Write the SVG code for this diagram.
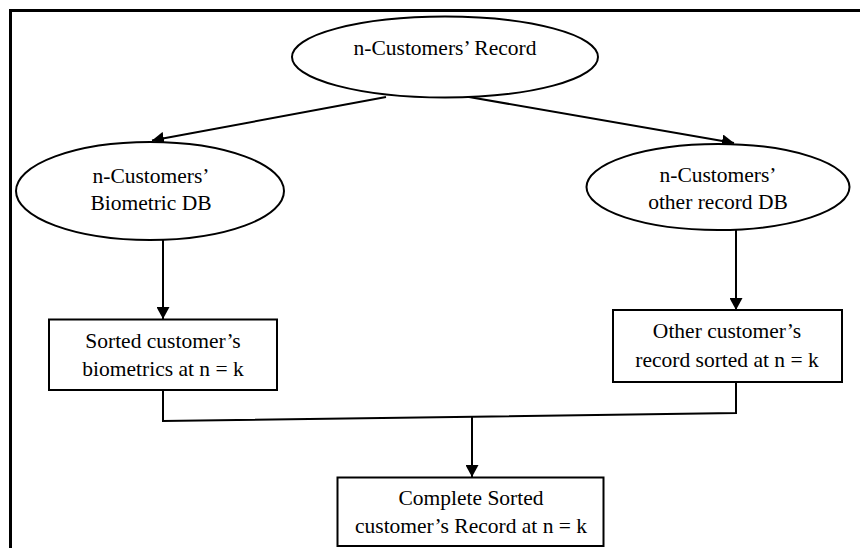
<svg xmlns="http://www.w3.org/2000/svg" width="860" height="548" viewBox="0 0 860 548">
  <style>
    .shape { fill: #ffffff; stroke: #000000; stroke-width: 2; }
    .lbl { font-family: "Liberation Serif", "Times New Roman", serif; font-size: 21.5px; fill: #000000; text-anchor: middle; }
    .conn { fill: none; stroke: #000000; stroke-width: 2; }
    .frame { fill: none; stroke: #000000; stroke-width: 3; }
  </style>
  <defs>
    <marker id="arrow" markerWidth="13" markerHeight="13" refX="12" refY="6.5" orient="auto" markerUnits="userSpaceOnUse">
      <path d="M0,0 L12,6.5 L0,13 Z" fill="#000000"/>
    </marker>
  </defs>
  <rect x="0" y="0" width="860" height="548" fill="#ffffff"/>
  <g id="frame">
    <line class="frame" x1="10.5" y1="9" x2="10.5" y2="548"/>
    <line class="frame" x1="9" y1="10.5" x2="860" y2="10.5"/>
  </g>
  <g id="connectors">
    <line class="conn" x1="386" y1="97" x2="152" y2="140.5" marker-end="url(#arrow)"/>
    <line class="conn" x1="469" y1="97" x2="734" y2="143" marker-end="url(#arrow)"/>
    <line class="conn" x1="163" y1="240" x2="163" y2="319" marker-end="url(#arrow)"/>
    <line class="conn" x1="736" y1="230" x2="736" y2="310" marker-end="url(#arrow)"/>
    <polyline class="conn" points="163,390 163,421 736,413 736,382"/>
    <line class="conn" x1="472" y1="417" x2="472" y2="477" marker-end="url(#arrow)"/>
  </g>
  <g id="node-record">
    <ellipse class="shape" cx="445" cy="57" rx="153" ry="40.5"/>
    <text class="lbl" x="445" y="55">n-Customers’ Record</text>
  </g>
  <g id="node-biometric-db">
    <ellipse class="shape" cx="150" cy="191" rx="134" ry="49"/>
    <text class="lbl" x="151" y="183">n-Customers’</text>
    <text class="lbl" x="151" y="210">Biometric DB</text>
  </g>
  <g id="node-other-db">
    <ellipse class="shape" cx="718" cy="187" rx="131.5" ry="43"/>
    <text class="lbl" x="718" y="182">n-Customers’</text>
    <text class="lbl" x="718" y="209">other record DB</text>
  </g>
  <g id="node-sorted-biometrics">
    <rect class="shape" x="49" y="319.5" width="228" height="70.5"/>
    <text class="lbl" x="163" y="348">Sorted customer’s</text>
    <text class="lbl" x="163" y="376">biometrics at n = k</text>
  </g>
  <g id="node-other-sorted">
    <rect class="shape" x="613" y="310" width="229" height="72"/>
    <text class="lbl" x="727" y="338">Other customer’s</text>
    <text class="lbl" x="727" y="367">record sorted at n = k</text>
  </g>
  <g id="node-complete">
    <rect class="shape" x="337.5" y="477.5" width="266" height="68.5"/>
    <text class="lbl" x="471" y="505">Complete Sorted</text>
    <text class="lbl" x="471" y="533">customer’s Record at n = k</text>
  </g>
</svg>
